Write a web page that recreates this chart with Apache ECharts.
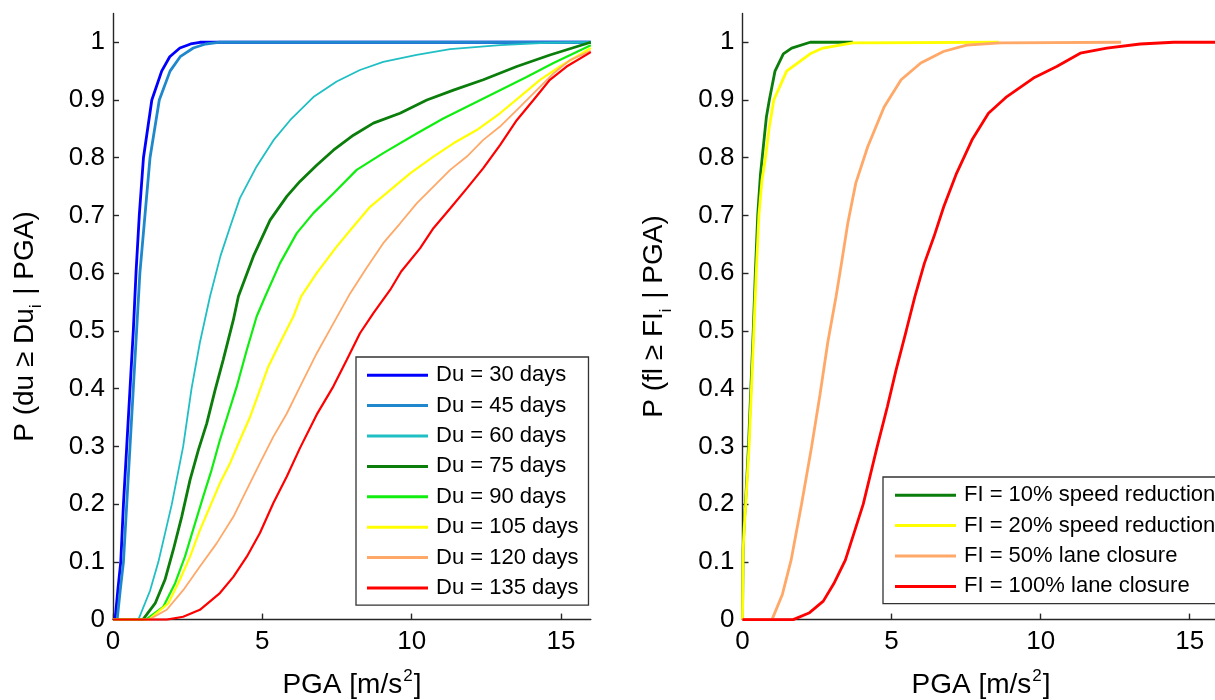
<!DOCTYPE html>
<html>
<head>
<meta charset="utf-8">
<script src="https://cdn.jsdelivr.net/npm/echarts@6/dist/echarts.min.js"></script>
<style>
html,body{margin:0;padding:0;background:#fff;}
#chart{width:1215px;height:700px;}
</style>
</head>
<body>
<div id="chart"></div>
<script>
// ---- tick labels ----
var xTicks = [0, 5, 10, 15];
var yTicks = [0, 0.1, 0.2, 0.3, 0.4, 0.5, 0.6, 0.7, 0.8, 0.9, 1];

// ---- left panel: duration curves [PGA, P] ----
var du30 = [[0,0],[0.07,0],[0.16,0.05],[0.26,0.1],[0.35,0.2],[0.46,0.3],[0.57,0.4],[0.68,0.5],[0.77,0.6],[0.88,0.7],[1.02,0.8],[1.30,0.9],[1.63,0.95],[1.9,0.975],[2.24,0.99],[2.6,0.997],[2.91,1.0],[16,1.0]];
var du45 = [[0,0],[0.14,0],[0.24,0.05],[0.35,0.1],[0.46,0.2],[0.57,0.3],[0.68,0.4],[0.79,0.5],[0.9,0.6],[1.07,0.7],[1.24,0.8],[1.55,0.9],[1.91,0.95],[2.25,0.975],[2.69,0.99],[3.1,0.997],[3.53,1.0],[16,1.0]];
var du60 = [[0,0],[0.85,0],[1.24,0.05],[1.52,0.1],[1.97,0.2],[2.35,0.3],[2.63,0.4],[2.91,0.48],[3.25,0.56],[3.6,0.63],[3.92,0.68],[4.25,0.73],[4.81,0.785],[5.37,0.83],[5.93,0.865],[6.71,0.905],[7.49,0.932],[8.27,0.952],[9.05,0.966],[10.17,0.978],[11.29,0.988],[12.96,0.995],[14.5,0.999],[16,1.0]];
var du75 = [[0,0],[1.0,0],[1.41,0.028],[1.74,0.069],[2.02,0.121],[2.30,0.178],[2.58,0.242],[2.86,0.294],[3.14,0.34],[3.42,0.398],[3.69,0.45],[4.03,0.519],[4.2,0.56],[4.70,0.629],[5.26,0.692],[5.82,0.733],[6.26,0.759],[6.82,0.787],[7.38,0.813],[8.05,0.839],[8.72,0.86],[9.61,0.877],[10.51,0.9],[11.40,0.917],[12.40,0.935],[13.52,0.958],[14.63,0.978],[16,1.0]];
var du90 = [[0,0],[1.1,0],[1.68,0.022],[2.08,0.063],[2.41,0.109],[2.75,0.167],[3.02,0.213],[3.30,0.259],[3.58,0.311],[3.86,0.357],[4.14,0.403],[4.48,0.467],[4.81,0.525],[5.1,0.56],[5.59,0.617],[6.15,0.669],[6.71,0.704],[7.38,0.738],[8.16,0.779],[9.05,0.808],[10.17,0.842],[11.06,0.868],[12.07,0.894],[12.96,0.917],[13.85,0.94],[14.75,0.964],[16,0.995]];
var du105 = [[0,0],[1.2,0],[1.85,0.028],[2.24,0.069],[2.58,0.109],[2.91,0.155],[3.25,0.196],[3.58,0.236],[3.92,0.271],[4.25,0.311],[4.59,0.351],[4.92,0.398],[5.20,0.438],[5.59,0.479],[6.04,0.525],[6.3,0.56],[6.82,0.6],[7.49,0.646],[8.05,0.681],[8.61,0.715],[9.28,0.744],[9.95,0.773],[10.73,0.802],[11.40,0.825],[12.18,0.848],[12.96,0.877],[13.63,0.906],[14.30,0.935],[14.97,0.958],[16,0.99]];
var du120 = [[0,0],[1.2,0],[1.80,0.017],[2.35,0.051],[2.91,0.092],[3.47,0.132],[4.03,0.178],[4.48,0.225],[4.92,0.271],[5.37,0.317],[5.82,0.357],[6.26,0.403],[6.82,0.461],[7.38,0.513],[7.94,0.565],[8.5,0.61],[9.05,0.652],[9.61,0.686],[10.17,0.721],[10.73,0.75],[11.29,0.779],[11.85,0.802],[12.40,0.831],[12.96,0.854],[13.63,0.888],[14.19,0.917],[14.75,0.946],[15.30,0.969],[16,0.985]];
var du135 = [[0,0],[1.8,0],[2.35,0.005],[2.91,0.017],[3.58,0.046],[4.03,0.074],[4.48,0.109],[4.92,0.15],[5.37,0.202],[5.82,0.248],[6.26,0.297],[6.82,0.355],[7.38,0.404],[7.83,0.45],[8.27,0.496],[8.72,0.531],[9.28,0.571],[9.65,0.603],[10.28,0.643],[10.73,0.678],[11.29,0.712],[11.85,0.747],[12.40,0.782],[12.96,0.822],[13.52,0.865],[14.08,0.9],[14.63,0.935],[15.19,0.958],[16,0.983]];

// ---- right panel: functionality curves [PGA, P] ----
var fi10 = [[0,0],[0.02,0.12],[0.05,0.16],[0.12,0.22],[0.2,0.3],[0.28,0.4],[0.36,0.5],[0.43,0.6],[0.51,0.7],[0.6,0.77],[0.7,0.82],[0.8,0.87],[0.9,0.9],[1.09,0.95],[1.37,0.98],[1.65,0.99],[2.27,1.0],[3.7,1.0]];
var fi20 = [[0,0],[0.02,0.12],[0.06,0.16],[0.13,0.22],[0.22,0.3],[0.3,0.4],[0.38,0.5],[0.46,0.6],[0.55,0.7],[0.65,0.76],[0.77,0.8],[0.89,0.85],[1.05,0.9],[1.48,0.95],[2.27,0.98],[2.7,0.99],[3.7,0.999],[8.6,1.0]];
var fi50 = [[0,0],[0.99,0],[1.34,0.044],[1.63,0.103],[1.98,0.2],[2.32,0.3],[2.6,0.39],[2.86,0.48],[3.14,0.56],[3.32,0.617],[3.53,0.686],[3.8,0.756],[4.2,0.819],[4.75,0.888],[5.32,0.935],[5.98,0.964],[6.74,0.984],[7.52,0.995],[8.64,0.999],[12.7,1.0]];
var fi100 = [[0,0],[1.7,0],[2.25,0.012],[2.71,0.032],[3.06,0.062],[3.45,0.103],[4.05,0.2],[4.52,0.30],[4.86,0.369],[5.15,0.432],[5.5,0.502],[5.78,0.559],[6.1,0.617],[6.42,0.663],[6.75,0.715],[7.18,0.773],[7.7,0.831],[8.25,0.877],[8.87,0.906],[9.76,0.938],[10.54,0.958],[11.33,0.981],[12.22,0.990],[13.34,0.997],[14.46,1.0],[16,1.0]];

var leftNames = ['Du = 30 days','Du = 45 days','Du = 60 days','Du = 75 days','Du = 90 days','Du = 105 days','Du = 120 days','Du = 135 days'];
var leftData = [du30, du45, du60, du75, du90, du105, du120, du135];
var leftColors = ['#0000ff','#1f88cc','#1fbfc4','#0a7d0a','#10ee10','#ffff00','#ffa868','#ff0000'];
var leftWidths = [2.8, 2.8, 1.8, 2.8, 2.2, 2.2, 1.8, 2.2];

var rightNames = ['FI = 10% speed reduction','FI = 20% speed reduction','FI = 50% lane closure','FI = 100% lane closure'];
var rightData = [fi10, fi20, fi50, fi100];
var rightColors = ['#0a7d0a','#ffff00','#ffa868','#ff0000'];
var rightWidths = [2.8, 2.8, 2.8, 2.8];

var FONT = '"Liberation Sans", Arial, sans-serif';
var axisLineStyle = {color: '#262626', width: 1.4};

function makeX(idx) {
  return {
    type: 'value', gridIndex: idx, min: 0, max: 16,
    axisLine: {show: true, onZero: false, lineStyle: axisLineStyle},
    axisTick: {show: true, inside: true, length: 6, customValues: xTicks, lineStyle: axisLineStyle},
    axisLabel: {customValues: xTicks, fontSize: 26, fontFamily: FONT, color: '#000', margin: 9},
    splitLine: {show: false},
    name: '{a|PGA [m/s}{sup|2}{a|]}',
    nameLocation: 'middle', nameGap: 48,
    nameTextStyle: {
      rich: {
        a: {fontSize: 28, fontFamily: FONT, color: '#000', lineHeight: 32, verticalAlign: 'bottom'},
        sup: {fontSize: 17, fontFamily: FONT, color: '#000', lineHeight: 32, verticalAlign: 'top', padding: [0, 1, 0, 1]}
      }
    }
  };
}
function makeY(idx, pre, sub, post, shift) {
  return {
    type: 'value', gridIndex: idx, min: 0, max: 1.05,
    axisLine: {show: true, onZero: false, lineStyle: axisLineStyle},
    axisTick: {show: true, inside: true, length: 6, customValues: yTicks, lineStyle: axisLineStyle},
    axisLabel: {customValues: yTicks, fontSize: 26, fontFamily: FONT, color: '#000', margin: 8},
    splitLine: {show: false},
    name: '{a|' + pre + '}{sub|' + sub + '}{a|' + post + '}',
    nameLocation: 'middle', nameGap: 68,
    nameTextStyle: {
      padding: [0, shift, 0, 0],
      rich: {
        a: {fontSize: 28, fontFamily: FONT, color: '#000', lineHeight: 34, verticalAlign: 'top'},
        sub: {fontSize: 16, fontFamily: FONT, color: '#000', lineHeight: 34, verticalAlign: 'bottom', padding: [0, 2, 0, 0]}
      }
    }
  };
}

var series = [];
leftNames.forEach(function (n, i) {
  series.push({
    name: n, type: 'line', xAxisIndex: 0, yAxisIndex: 0, data: leftData[i],
    showSymbol: false, symbol: 'none', color: leftColors[i],
    lineStyle: {color: leftColors[i], width: leftWidths[i]},
    itemStyle: {color: leftColors[i]}
  });
});
rightNames.forEach(function (n, i) {
  series.push({
    name: n, type: 'line', xAxisIndex: 1, yAxisIndex: 1, data: rightData[i],
    showSymbol: false, symbol: 'none', color: rightColors[i],
    lineStyle: {color: rightColors[i], width: rightWidths[i]},
    itemStyle: {color: rightColors[i]}
  });
});

var legendCommon = {
  orient: 'vertical', icon: 'rect', itemWidth: 61, itemHeight: 3, itemGap: 0,
  textStyle: {fontSize: 22, fontFamily: FONT, color: '#000', lineHeight: 30.4, padding: [0, 0, 0, 3]},
  borderColor: '#333', borderWidth: 1.3, backgroundColor: '#fff',
  inactiveColor: '#ccc', selectedMode: false
};

var option = {
  animation: false,
  backgroundColor: '#fff',
  grid: [
    {left: 113, top: 13.4, width: 477.8, height: 606.2, outerBoundsMode: 'none', containLabel: false},
    {left: 742.5, top: 13.4, width: 477, height: 606.2, outerBoundsMode: 'none', containLabel: false}
  ],
  xAxis: [makeX(0), makeX(1)],
  yAxis: [makeY(0, 'P (du \u2265 Du', 'i', ' | PGA)', 20), makeY(1, 'P (fl \u2265 FI', 'i', ' | PGA)', 0)],
  legend: [
    Object.assign({}, legendCommon, {data: leftNames, left: 356, top: 357, padding: [3, 10, 2, 11]}),
    Object.assign({}, legendCommon, {data: rightNames, left: 883, top: 477, padding: [3, 20, 2, 12]})
  ],
  series: series
};

var chart = echarts.init(document.getElementById('chart'), null, {renderer: 'canvas'});
chart.setOption(option);
</script>
</body>
</html>
